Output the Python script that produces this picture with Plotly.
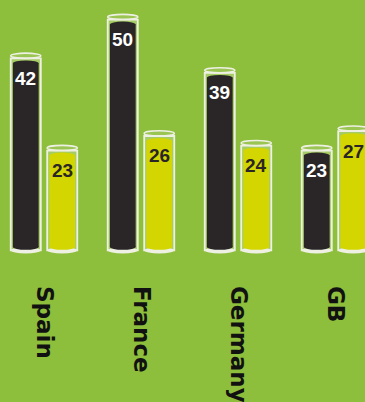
import plotly.graph_objects as go

# Survey share by country (percent)
countries = ["Spain", "France", "Germany", "GB"]
series_a = [42, 50, 39, 23]   # dark cylinders
series_b = [23, 26, 24, 27]   # yellow cylinders

BG = "#8DBE3C"
DARK = "#2A2627"
YELLOW = "#D3D600"
RIM = "rgba(238,240,228,1)"
GLASS = "rgba(255,255,255,0.22)"

PX = 4.853                 # pixels per value unit
RY = 2.6 / PX              # half-height of the elliptical caps
GLASS_BASE = 1.9           # centre of the glass bottom ellipse
FILL_BASE = 2.6            # centre of the liquid bottom ellipse
FILL_DROP = 7.5 / PX       # liquid surface sits below the glass rim
GLASS_W = 0.31
FILL_W = 0.266
OFFSETS = [-0.188, 0.188]

fig = go.Figure()
shapes = []
annotations = []

for values, color, txt_color, off in [
    (series_a, DARK, "white", OFFSETS[0]),
    (series_b, YELLOW, DARK, OFFSETS[1]),
]:
    xs = [i + off for i in range(len(values))]
    # glass body
    fig.add_trace(go.Bar(
        x=xs, y=[v - RY - GLASS_BASE for v in values], base=GLASS_BASE,
        width=GLASS_W, marker=dict(color=GLASS, line=dict(color=RIM, width=1.8)),
        hoverinfo="skip", showlegend=False))
    # liquid body
    fig.add_trace(go.Bar(
        x=xs, y=[v - FILL_DROP - FILL_BASE for v in values], base=FILL_BASE,
        width=FILL_W, marker=dict(color=color, line=dict(width=0)),
        hoverinfo="skip", showlegend=False))
    for x, v in zip(xs, values):
        # glass bottom rim
        shapes.append(dict(type="circle", xref="x", yref="y", layer="below",
                           x0=x - GLASS_W / 2, x1=x + GLASS_W / 2,
                           y0=GLASS_BASE - RY * 1.2, y1=GLASS_BASE + RY * 1.2,
                           fillcolor=RIM, line=dict(width=0)))
        # liquid bottom and surface
        for yc in (FILL_BASE, v - FILL_DROP):
            shapes.append(dict(type="circle", xref="x", yref="y", layer="above",
                               x0=x - FILL_W / 2, x1=x + FILL_W / 2,
                               y0=yc - RY * 1.1, y1=yc + RY * 1.1,
                               fillcolor=color, line=dict(width=0)))
        # glass top rim
        shapes.append(dict(type="circle", xref="x", yref="y", layer="above",
                           x0=x - GLASS_W / 2, x1=x + GLASS_W / 2,
                           y0=v - RY, y1=v + RY,
                           fillcolor="rgba(255,255,255,0.12)",
                           line=dict(color=RIM, width=1.6)))
        annotations.append(dict(x=x, y=v, xref="x", yref="y", yshift=-22.5,
                                text=str(v), showarrow=False,
                                font=dict(family="Liberation Sans, Arial", size=19,
                                          color=txt_color, weight="bold")))

fig.update_layout(
    width=365, height=402,
    margin=dict(l=0, r=0, t=0, b=120),
    paper_bgcolor=BG, plot_bgcolor=BG,
    barmode="overlay",
    shapes=shapes, annotations=annotations,
    xaxis=dict(range=[-0.4536, 3.3093], tickvals=list(range(len(countries))),
               ticktext=countries, tickangle=90, showgrid=False, zeroline=False,
               showline=False, ticks="", ticklabelstandoff=3,
               tickfont=dict(family="DejaVu Sans", size=23, color="#111111", weight="bold")),
    yaxis=dict(range=[-4.62, 53.49], visible=False, showgrid=False, zeroline=False),
)

fig.write_html("out.html")
